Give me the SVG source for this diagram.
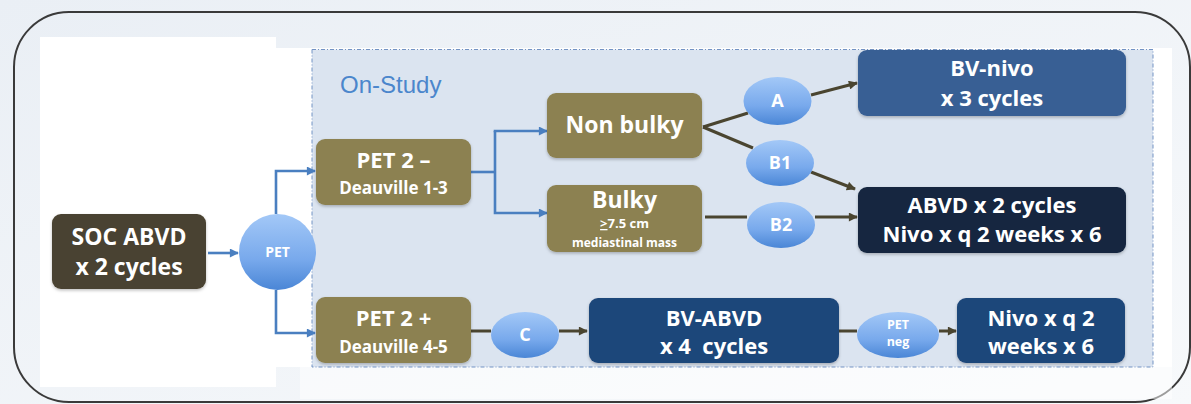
<svg xmlns="http://www.w3.org/2000/svg" width="1191" height="404" viewBox="0 0 1191 404">
<defs>
<linearGradient id="bg" x1="0" y1="0" x2="1" y2="1">
<stop offset="0" stop-color="#eaeff5"/>
<stop offset="1" stop-color="#f7f9fb"/>
</linearGradient>
<linearGradient id="ell" x1="0" y1="0" x2="0" y2="1">
<stop offset="0" stop-color="#a3c8f7"/>
<stop offset="0.6" stop-color="#78a9ec"/>
<stop offset="1" stop-color="#4a86d6"/>
</linearGradient>
<filter id="sh" x="-10%" y="-10%" width="120%" height="130%">
<feDropShadow dx="0" dy="1.5" stdDeviation="1.5" flood-color="#000" flood-opacity="0.25"/>
</filter>
<marker id="ab" viewBox="0 0 10 10" refX="9" refY="5" markerWidth="10" markerHeight="9" markerUnits="userSpaceOnUse" orient="auto">
<path d="M0,0 L10,5 L0,10 z" fill="#4a7fc0"/>
</marker>
<marker id="ad" viewBox="0 0 10 10" refX="9" refY="5" markerWidth="10" markerHeight="9" markerUnits="userSpaceOnUse" orient="auto">
<path d="M0,0 L10,5 L0,10 z" fill="#4a4530"/>
</marker>
</defs>
<style>
.t{font-family:"Open Sans","Liberation Sans",sans-serif;font-weight:bold;fill:#ffffff;text-anchor:middle}
.big{font-size:22px}
.mid{font-size:17px}
.sm{font-size:12px}
.el{font-size:18px}
.olive{fill:#8c8151}
.blu{fill:none;stroke:#4a7fc0;stroke-width:2.6}
.drk{fill:none;stroke:#4a4530;stroke-width:3}
.ellipse{fill:url(#ell)}
</style>
<rect x="0" y="0" width="1191" height="404" fill="url(#bg)"/>
<rect x="14" y="12" width="1176" height="390" rx="55" ry="55" fill="url(#bg)" stroke="#3a3a3a" stroke-width="2"/>
<rect x="40" y="37" width="236" height="350" fill="#ffffff"/>
<rect x="276" y="48" width="896" height="319" fill="#ffffff"/>
<rect x="300" y="367" width="872" height="32" fill="#ffffff" opacity="0.5"/>
<g id="onstudy">
<rect x="312" y="49.5" width="841" height="317.5" fill="#dbe4f0" stroke="#7393c4" stroke-width="1" stroke-dasharray="4 2 1 2"/>
<text x="340" y="93" font-family="Liberation Sans, Arial, sans-serif" font-size="24" fill="#4b86cc">On-Study</text>
</g>
<g id="connectors">
<line class="blu" x1="208" y1="253" x2="238" y2="253" marker-end="url(#ab)"/>
<polyline class="blu" points="276,214 276,171 315,171" marker-end="url(#ab)"/>
<polyline class="blu" points="276,290 276,333 315,333" marker-end="url(#ab)"/>
<line class="blu" x1="471" y1="172" x2="495" y2="172"/>
<polyline class="blu" points="495,131 495,213 547,213" marker-end="url(#ab)"/>
<line class="blu" x1="493.7" y1="131" x2="547" y2="131" marker-end="url(#ab)"/>
<line class="drk" x1="703" y1="127" x2="748" y2="113"/>
<line class="drk" x1="811" y1="95" x2="857" y2="83" marker-end="url(#ad)"/>
<line class="drk" x1="703" y1="127" x2="753" y2="148"/>
<line class="drk" x1="811" y1="172" x2="855" y2="189" marker-end="url(#ad)"/>
<line class="drk" x1="705" y1="217" x2="747" y2="217"/>
<line class="drk" x1="815" y1="217" x2="857" y2="217" marker-end="url(#ad)"/>
<line class="drk" x1="471" y1="331" x2="491" y2="331"/>
<line class="drk" x1="559" y1="331" x2="587" y2="331" marker-end="url(#ad)"/>
<line class="drk" x1="839" y1="331" x2="857" y2="331"/>
<line class="drk" x1="939" y1="331" x2="956" y2="331" marker-end="url(#ad)"/>
</g>
<g id="soc">
<rect x="52" y="214" width="154" height="75" rx="9" fill="#4a4330" filter="url(#sh)"/>
<text class="t" font-size="23" x="129" y="245">SOC ABVD</text>
<text class="t" font-size="23" x="129" y="275">x 2 cycles</text>
</g>
<g id="pet">
<ellipse cx="277.5" cy="252" rx="38.5" ry="38" class="ellipse"/>
<text class="t" x="277.5" y="257" font-size="14">PET</text>
</g>
<g id="pet2neg">
<rect x="316" y="139" width="155" height="66" rx="9" class="olive" filter="url(#sh)"/>
<text class="t big" x="393.5" y="168">PET 2 –</text>
<text class="t mid" x="393.5" y="194">Deauville 1-3</text>
</g>
<g id="pet2pos">
<rect x="316" y="297" width="155" height="66" rx="9" class="olive" filter="url(#sh)"/>
<text class="t big" x="393.5" y="326">PET 2 +</text>
<text class="t mid" x="393.5" y="353">Deauville 4-5</text>
</g>
<g id="nonbulky">
<rect x="547" y="93" width="155" height="65" rx="9" class="olive" filter="url(#sh)"/>
<text class="t" x="624.5" y="133" font-size="23">Non bulky</text>
</g>
<g id="bulky">
<rect x="547" y="185" width="155" height="67" rx="9" class="olive" filter="url(#sh)"/>
<text class="t" x="624.5" y="208" font-size="23">Bulky</text>
<text class="t" x="624.5" y="228" font-size="13"><tspan text-decoration="underline">&gt;</tspan>7.5 cm</text>
<text class="t sm" x="624.5" y="247">mediastinal mass</text>
</g>
<g id="a">
<ellipse cx="777.5" cy="101" rx="34" ry="24" class="ellipse"/>
<text class="t el" x="777.5" y="107">A</text>
</g>
<g id="b1">
<ellipse cx="780" cy="163" rx="34" ry="23" class="ellipse"/>
<text class="t el" x="780" y="169">B1</text>
</g>
<g id="b2">
<ellipse cx="781" cy="225" rx="34" ry="23" class="ellipse"/>
<text class="t el" x="781" y="231">B2</text>
</g>
<g id="c">
<ellipse cx="525" cy="335" rx="34" ry="23" class="ellipse"/>
<text class="t el" x="525" y="341">C</text>
</g>
<g id="petneg">
<ellipse cx="898" cy="335" rx="41" ry="23" class="ellipse"/>
<text class="t" x="898" y="329" font-size="12.5">PET</text>
<text class="t" x="898" y="346" font-size="12.5">neg</text>
</g>
<g id="bvnivo">
<rect x="858" y="50" width="268" height="66" rx="9" fill="#385f94" filter="url(#sh)"/>
<text class="t big" x="992" y="76">BV-nivo</text>
<text class="t big" x="992" y="106">x 3 cycles</text>
</g>
<g id="abvdnivo">
<rect x="858" y="187" width="268" height="66" rx="9" fill="#13253f" filter="url(#sh)"/>
<text class="t big" x="992" y="213">ABVD x 2 cycles</text>
<text class="t big" x="992" y="242">Nivo x q 2 weeks x 6</text>
</g>
<g id="bvabvd">
<rect x="589" y="298" width="250" height="65" rx="9" fill="#1f477a" filter="url(#sh)"/>
<text class="t big" x="714" y="326">BV-ABVD</text>
<text class="t big" x="714" y="354" xml:space="preserve">x 4  cycles</text>
</g>
<g id="nivo">
<rect x="957" y="298" width="168" height="65" rx="9" fill="#1f477a" filter="url(#sh)"/>
<text class="t big" x="1041" y="326">Nivo x q 2</text>
<text class="t big" x="1041" y="354">weeks x 6</text>
</g>
</svg>
